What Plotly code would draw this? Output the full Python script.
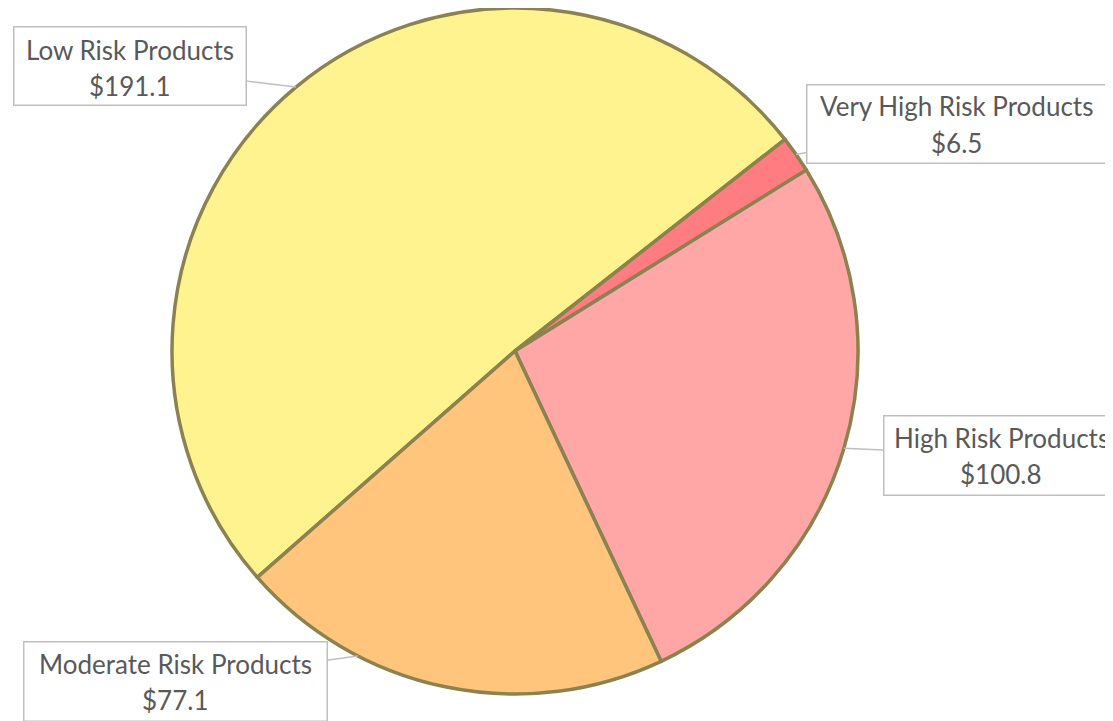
import math
import plotly.graph_objects as go

labels = ["Low Risk Products", "Very High Risk Products", "High Risk Products", "Moderate Risk Products"]
values = [191.1, 6.5, 100.8, 77.1]
colors = ["#FFF38F", "#FF7C80", "#FFA6A6", "#FFC57D"]
value_texts = ["$191.1", "$6.5", "$100.8", "$77.1"]

OFF = 8  # page body margin offset
W, H = 1113 - OFF, 721 - OFF
CX, CY, R = 515 - OFF, 351 - OFF, 343
ROT = 228.7  # start angle, clockwise from 12 o'clock

fig = go.Figure(go.Pie(
    labels=labels, values=values, sort=False, direction="clockwise", rotation=ROT,
    marker=dict(colors=colors, line=dict(color="#8C8250", width=3.5)),
    textinfo="none", hoverinfo="label+value",
    domain=dict(x=[(CX - R) / W, (CX + R) / W], y=[(H - CY - R) / H, (H - CY + R) / H]),
))

# callout layout: (fraction along slice for leader anchor, box center px, box w, box h)
callouts = [
    (0.5, (129.5, 66.5), 233, 79),
    (0.5, (956, 123.5), 300, 79),
    (0.5, (1001, 455), 236, 80),
    (0.71, (175, 681), 304, 80),
]
total = sum(values)
start = ROT
annotations = []
for i, v in enumerate(values):
    span = v / total * 360
    frac, (bx, by), bw, bh = callouts[i]
    bx -= OFF
    by -= OFF
    ang = math.radians(start + span * frac)
    start += span
    px = CX + R * math.sin(ang)
    py = CY - R * math.cos(ang)
    annotations.append(dict(
        x=px / W, y=1 - py / H, xref="paper", yref="paper",
        text=" ", showarrow=True, arrowhead=0, arrowwidth=1.5, arrowcolor="#BFBFBF",
        ax=bx - px, ay=by - py, width=bw - 2, height=bh - 2, borderpad=0,
        bordercolor="#BFBFBF", borderwidth=1.5, bgcolor="white",
    ))
    for j, t in enumerate([labels[i], value_texts[i]]):
        annotations.append(dict(
            x=bx / W, y=1 - (by - 17 + 36 * j) / H, xref="paper", yref="paper",
            text=t, showarrow=False, xanchor="center", yanchor="middle",
            font=dict(family="Lato", size=26, color="#595959"),
        ))

fig.update_layout(
    width=W, height=H, margin=dict(l=0, r=0, t=0, b=0),
    paper_bgcolor="white", plot_bgcolor="white", showlegend=False,
    annotations=annotations,
)
fig.write_html("out.html")
